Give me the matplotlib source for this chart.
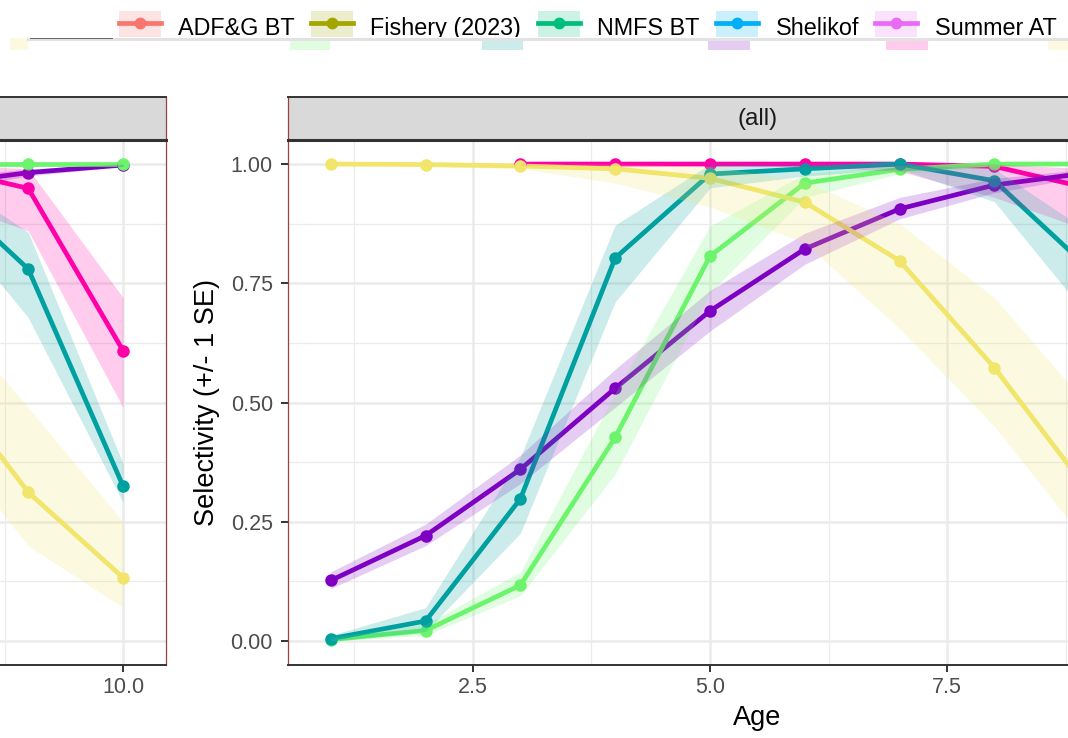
import numpy as np
import matplotlib.pyplot as plt
from matplotlib.patches import Patch, Rectangle
from matplotlib.lines import Line2D
from matplotlib.legend_handler import HandlerTuple

plt.rcParams['font.family'] = ['Liberation Sans', 'DejaVu Sans']

# ---- data ----
ages = [1, 2, 3, 4, 5, 6, 7, 8, 9, 10]

yellow_est = [1.000, 0.999, 0.996, 0.990, 0.970, 0.920, 0.797, 0.573, 0.312, 0.133]
yellow_lo = [0.998, 0.995, 0.990, 0.960, 0.910, 0.835, 0.655, 0.450, 0.200, 0.070]
yellow_hi = [1.000, 1.000, 1.000, 1.000, 0.995, 0.965, 0.875, 0.720, 0.490, 0.250]

green_est = [0.003, 0.022, 0.117, 0.427, 0.807, 0.960, 0.989, 1.000, 1.000, 1.000]
green_lo = [0.000, 0.012, 0.095, 0.350, 0.730, 0.930, 0.980, 0.995, 0.998, 0.999]
green_hi = [0.008, 0.035, 0.145, 0.520, 0.870, 0.980, 0.997, 1.000, 1.000, 1.000]

teal_est = [0.005, 0.042, 0.298, 0.803, 0.979, 0.990, 1.000, 0.965, 0.780, 0.325]
teal_lo = [0.000, 0.020, 0.226, 0.711, 0.950, 0.975, 0.990, 0.921, 0.678, 0.291]
teal_hi = [0.012, 0.070, 0.386, 0.872, 1.000, 1.000, 1.000, 0.990, 0.857, 0.372]

purple_est = [0.127, 0.221, 0.360, 0.530, 0.692, 0.822, 0.906, 0.956, 0.982, 0.998]
purple_lo = [0.110, 0.200, 0.330, 0.490, 0.650, 0.790, 0.885, 0.940, 0.975, 0.995]
purple_hi = [0.145, 0.245, 0.390, 0.570, 0.735, 0.855, 0.930, 0.970, 0.990, 1.000]

magenta_est = [np.nan, np.nan, 1.000, 1.000, 1.000, 1.000, 1.000, 0.995, 0.949, 0.609]
magenta_lo = [np.nan, np.nan, 0.998, 0.998, 0.998, 0.995, 0.985, 0.930, 0.860, 0.490]
magenta_hi = [np.nan, np.nan, 1.000, 1.000, 1.000, 1.000, 1.000, 1.000, 0.990, 0.720]

# drawing order, bottom to top
series = [
    ('#FF00A8', magenta_est, magenta_lo, magenta_hi),
    ('#7E00C2', purple_est, purple_lo, purple_hi),
    ('#6CF56C', green_est, green_lo, green_hi),
    ('#00A0A0', teal_est, teal_lo, teal_hi),
    ('#F1E56C', yellow_est, yellow_lo, yellow_hi),
]

legend_labels = ['ADF&G BT', 'Fishery (2023)', 'NMFS BT', 'Shelikof', 'Summer AT']
legend_colors = ['#F8766D', '#A3A500', '#00BF7D', '#00B0F6', '#E76BF3']

y_ticks = [0, 0.25, 0.5, 0.75, 1.0]
y_labels = ['0.00', '0.25', '0.50', '0.75', '1.00']
x_ticks = [2.5, 5.0, 7.5, 10.0]

W, H = 1068, 738
fig = plt.figure(figsize=(W / 100, H / 100), dpi=100)


def px(x0, y0, x1, y1):
    return [x0 / W, 1 - y1 / H, (x1 - x0) / W, (y1 - y0) / H]


def draw_panel(ax, xlabs, ylabs):
    for c, est, lo, hi in series:
        ax.plot(ages, est, color=c, lw=3.4, zorder=2, solid_joinstyle='round')
    for c, est, lo, hi in series:
        ax.plot(ages, est, 'o', color=c, ms=9, mew=0, zorder=3)
    for c, est, lo, hi in series:
        ax.fill_between(ages, lo, hi, color=c, alpha=0.2, lw=0, zorder=4)
    ax.set_xlim(0.55, 10.45)
    ax.set_ylim(-0.05, 1.05)
    ax.set_xticks(x_ticks)
    ax.set_xticklabels(xlabs)
    ax.set_yticks(y_ticks)
    ax.set_yticklabels(ylabs)
    ax.set_xticks([1.25, 3.75, 6.25, 8.75], minor=True)
    ax.set_yticks([0.125, 0.375, 0.625, 0.875], minor=True)
    ax.grid(which='major', color='#EBEBEB', lw=1.8, zorder=0)
    ax.grid(which='minor', color='#EBEBEB', lw=0.9, zorder=0)
    ax.set_axisbelow(True)
    ax.tick_params(which='major', length=5, width=1.4, color='#333333',
                   labelcolor='#4D4D4D', labelsize=15.5, pad=6)
    ax.tick_params(axis='x', pad=4)
    ax.tick_params(which='minor', length=0)
    for s in ['left', 'right']:
        ax.spines[s].set_color('#9b4040')
        ax.spines[s].set_linewidth(0.9)
    ax.spines['bottom'].set_color('#333333')
    ax.spines['bottom'].set_linewidth(1.4)
    ax.spines['top'].set_visible(False)


def draw_strip(sax, text):
    sax.set_facecolor('#D9D9D9')
    sax.set_xticks([])
    sax.set_yticks([])
    for s in ['left', 'right']:
        sax.spines[s].set_color('#9b4040')
        sax.spines[s].set_linewidth(0.9)
    sax.spines['top'].set_color('#333333')
    sax.spines['top'].set_linewidth(1.4)
    sax.spines['bottom'].set_color('#333333')
    sax.spines['bottom'].set_linewidth(2.2)
    sax.text(0.5, 0.5, text, transform=sax.transAxes, ha='center', va='center',
             fontsize=17.5, color='#1A1A1A')


# panel position in pixels: 0.55 -> 288.1, 10.45 -> 1226.7
top, bottom = 140.2, 664.9
right_l, right_r = 288.1, 1226.7
left_r = 165.7
left_l = left_r - (right_r - right_l)

# left copy of the panel (only its right end shows in the picture)
ax_left = fig.add_axes(px(left_l, top, left_r, bottom))
draw_panel(ax_left, ['', '', '', '10.0'], [''] * 5)
strip_left = fig.add_axes(px(left_l, 97, left_r, top))
draw_strip(strip_left, '')

ax = fig.add_axes(px(right_l, top, right_r, bottom))
draw_panel(ax, ['2.5', '5.0', '7.5', ''], y_labels)
strip = fig.add_axes(px(right_l, 97, right_r, top))
draw_strip(strip, '(all)')

ax.set_ylabel('Selectivity (+/- 1 SE)', fontsize=19.5, color='black', va='center')
ax.yaxis.set_label_coords(-(right_l - 207) / (right_r - right_l), 0.5)
ax.set_xlabel('Age', fontsize=19.5, color='black', va='center')
ax.xaxis.set_label_coords(0.5, -(718 - bottom) / (bottom - top))

# ---- overlapping legend rows at the top ----
handles = []
for c in legend_colors:
    handles.append((Patch(facecolor=c, alpha=0.2, edgecolor='none'),
                    Line2D([], [], color=c, lw=3.4, marker='o', ms=8.5, mew=0)))
leg = fig.legend(handles, legend_labels, loc='center', bbox_to_anchor=(587.5 / W, 1 - 27 / H),
                 ncol=5, frameon=False, fontsize=16.8, handlelength=1.8, handleheight=1.72,
                 handletextpad=0.75, columnspacing=0.7, numpoints=1,
                 handler_map={tuple: HandlerTuple(ndivide=1, pad=0)})
leg.set_zorder(5)

# a second legend row drawn over the lower half of the first one
fig.patches.append(Rectangle((0, 1 - 53 / H), 1, 15.5 / H, transform=fig.transFigure,
                             facecolor='white', edgecolor='none', zorder=6))
for x0, x1, c in [(10, 28, '#F1E56C'), (290, 330, '#6CF56C'), (482, 523, '#00A0A0'),
                  (708, 750, '#7E00C2'), (886, 928, '#FF00A8'), (1048, 1075, '#F1E56C')]:
    fig.patches.append(Rectangle((x0 / W, 1 - 50 / H), (x1 - x0) / W, 12.5 / H,
                                 transform=fig.transFigure, facecolor=c, alpha=0.2,
                                 edgecolor='none', zorder=7))
fig.lines.append(Line2D([28 / W, 1.0], [1 - 38.5 / H, 1 - 38.5 / H], transform=fig.transFigure,
                        color='#E2E2E2', lw=2.2, zorder=8))
fig.lines.append(Line2D([30 / W, 112 / W], [1 - 37.5 / H, 1 - 37.5 / H], transform=fig.transFigure,
                        color='#666666', lw=0.7, zorder=8))

fig.savefig('out.png', dpi=100)
